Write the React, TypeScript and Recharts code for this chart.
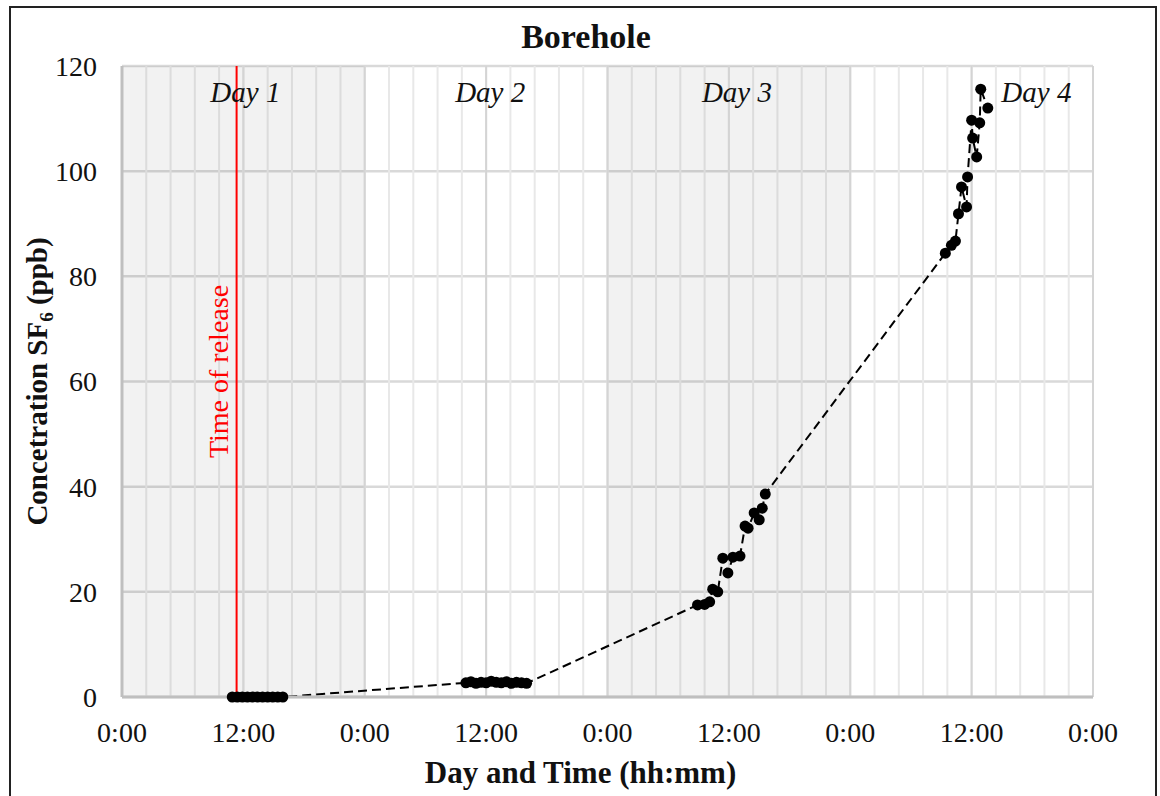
import {
  ComposedChart,
  Line,
  XAxis,
  YAxis,
  CartesianGrid,
  ReferenceArea,
  ReferenceLine,
  ReferenceDot,
  Label,
} from 'recharts';

// sampling times (hours since day 1 0:00) and SF6 concentration (ppb)
const day1Hours = [10.9, 11.4, 11.9, 12.4, 12.9, 13.4, 13.9, 14.4, 14.9, 15.4, 15.9];
const day1Ppb = [0, 0, 0, 0, 0, 0, 0, 0, 0, 0, 0];

const day2Hours = [34.0, 34.5, 35.0, 35.5, 36.0, 36.5, 37.0, 37.5, 38.0, 38.5, 39.0, 39.5, 40.0];
const day2Ppb = [2.7, 2.9, 2.6, 2.8, 2.7, 3.0, 2.8, 2.7, 2.9, 2.6, 2.8, 2.7, 2.6];

const day3Hours = [56.9, 57.6, 58.1, 58.4, 58.9, 59.4, 59.9, 60.4, 61.1, 61.6, 61.9, 62.5, 63.0, 63.3, 63.6];
const day3Ppb = [17.5, 17.6, 18.1, 20.5, 20.0, 26.4, 23.6, 26.6, 26.8, 32.5, 32.1, 35.0, 33.7, 35.9, 38.6];

const day4Hours = [81.4, 82.0, 82.4, 82.7, 83.0, 83.5, 83.6, 84.0, 84.1, 84.5, 84.8, 84.9, 85.6];
const day4Ppb = [84.4, 85.9, 86.7, 91.9, 97.0, 93.2, 98.9, 109.7, 106.3, 102.7, 109.2, 115.6, 112.0];

const releaseHour = 11.33;

const dayNames = ['Day 1', 'Day 2', 'Day 3', 'Day 4'];
const dayNameHours = [12.2, 36.4, 60.8, 90.4];
const dayNamePpb = 113.2;

const shadedDays = [
  [0, 24],
  [48, 72],
];

const yTicks = [0, 20, 40, 60, 80, 100, 120];
const majorHours = [0, 12, 24, 36, 48, 60, 72, 84, 96];
// minor gridlines every 0.1 day
const minorHours = Array.from({ length: 41 }, (_, i) => (i * 12) / 5);

const zip = (hs: number[], vs: number[]) => hs.map((h, i) => ({ h, v: vs[i] }));

const points = [
  ...zip(day1Hours, day1Ppb),
  ...zip(day2Hours, day2Ppb),
  ...zip(day3Hours, day3Ppb),
  ...zip(day4Hours, day4Ppb),
];

const FONT = '"Liberation Serif", "Times New Roman", serif';

const formatHour = (v: number) => {
  if (v % 12 !== 0) return '';
  return v % 24 === 0 ? '0:00' : '12:00';
};

const XTitle = (props: any) => {
  const vb = props.viewBox || {};
  return (
    <text
      x={vb.x + vb.width / 2 - 27}
      y={vb.y + 86}
      textAnchor="middle"
      fontFamily={FONT}
      fontWeight="bold"
      fontSize={31}
      fill="#111"
    >
      Day and Time (hh:mm)
    </text>
  );
};

const YTitle = (props: any) => {
  const vb = props.viewBox || {};
  const x = vb.x + 5;
  const y = vb.y + vb.height / 2;
  return (
    <text
      x={x}
      y={y}
      transform={`rotate(-90, ${x}, ${y})`}
      textAnchor="middle"
      fontFamily={FONT}
      fontWeight="bold"
      fontSize={29}
      fill="#111"
    >
      Concetration SF
      <tspan fontSize={19} dy={6}>
        6
      </tspan>
      <tspan dy={-6}> (ppb)</tspan>
    </text>
  );
};

const ReleaseLabel = (props: any) => {
  const vb = props.viewBox || {};
  const x = vb.x - 8.5;
  const y = vb.y + vb.height / 2 - 10;
  return (
    <text
      x={x}
      y={y}
      transform={`rotate(-90, ${x}, ${y})`}
      textAnchor="middle"
      fontFamily={FONT}
      fontSize={28}
      fill="#ff0000"
    >
      Time of release
    </text>
  );
};

export default function App() {
  return (
    <div
      style={{
        position: 'absolute',
        left: 9,
        top: 6,
        width: 1148,
        height: 790,
        borderTop: '2px solid #222',
        borderLeft: '2px solid #222',
        borderRight: '2px solid #222',
        boxSizing: 'border-box',
        fontFamily: FONT,
        background: '#fff',
        overflow: 'hidden',
      }}
    >
      <div
        style={{
          position: 'absolute',
          top: 11.5,
          left: 3,
          width: 1144,
          textAlign: 'center',
          fontSize: 34,
          lineHeight: '34px',
          fontWeight: 'bold',
          color: '#111',
        }}
      >
        Borehole
      </div>
      <ComposedChart
        width={1144}
        height={788}
        data={points}
        margin={{ top: 58, right: 62, bottom: 9, left: 31 }}
      >
        {shadedDays.map(([a, b]) => (
          <ReferenceArea
            key={`band-${a}`}
            x1={a}
            x2={b}
            y1={0}
            y2={120}
            fill="#000"
            fillOpacity={0.05}
            stroke="none"
          />
        ))}
        <CartesianGrid vertical={false} stroke="#d9d9d9" strokeWidth={2.5} />
        <CartesianGrid horizontal={false} stroke="#e8e8e8" strokeWidth={2} />
        {majorHours.map((h) => (
          <ReferenceLine key={`major-${h}`} x={h} stroke="#d4d4d4" strokeWidth={2} />
        ))}
        <XAxis
          type="number"
          dataKey="h"
          domain={[0, 96]}
          ticks={minorHours}
          interval={0}
          tickFormatter={formatHour}
          tickLine={false}
          axisLine={{ stroke: '#bfbfbf', strokeWidth: 3 }}
          tick={{ fontSize: 28, fontFamily: FONT, fill: '#111' }}
          tickMargin={19}
          height={90}
        >
          <Label content={<XTitle />} />
        </XAxis>
        <YAxis
          type="number"
          domain={[0, 120]}
          ticks={yTicks}
          interval={0}
          tickLine={false}
          axisLine={{ stroke: '#bfbfbf', strokeWidth: 3 }}
          tick={{ fontSize: 28, fontFamily: FONT, fill: '#111' }}
          tickMargin={19}
          width={80}
        >
          <Label content={<YTitle />} />
        </YAxis>
        <ReferenceLine x={releaseHour} stroke="#ff0000" strokeWidth={2}>
          <Label content={<ReleaseLabel />} />
        </ReferenceLine>
        {dayNames.map((name, i) => (
          <ReferenceDot
            key={name}
            x={dayNameHours[i]}
            y={dayNamePpb}
            r={0}
            shape={(p: any) => (
              <text
                x={p.cx}
                y={p.cy}
                textAnchor="middle"
                fontFamily={FONT}
                fontStyle="italic"
                fontSize={29}
                fill="#111"
              >
                {name}
              </text>
            )}
          />
        ))}
        <Line
          type="linear"
          dataKey="v"
          stroke="#000"
          strokeWidth={2}
          strokeDasharray="9 5"
          dot={{ r: 5.5, fill: '#000', stroke: '#000', strokeWidth: 0 }}
          isAnimationActive={false}
        />
      </ComposedChart>
    </div>
  );
}
